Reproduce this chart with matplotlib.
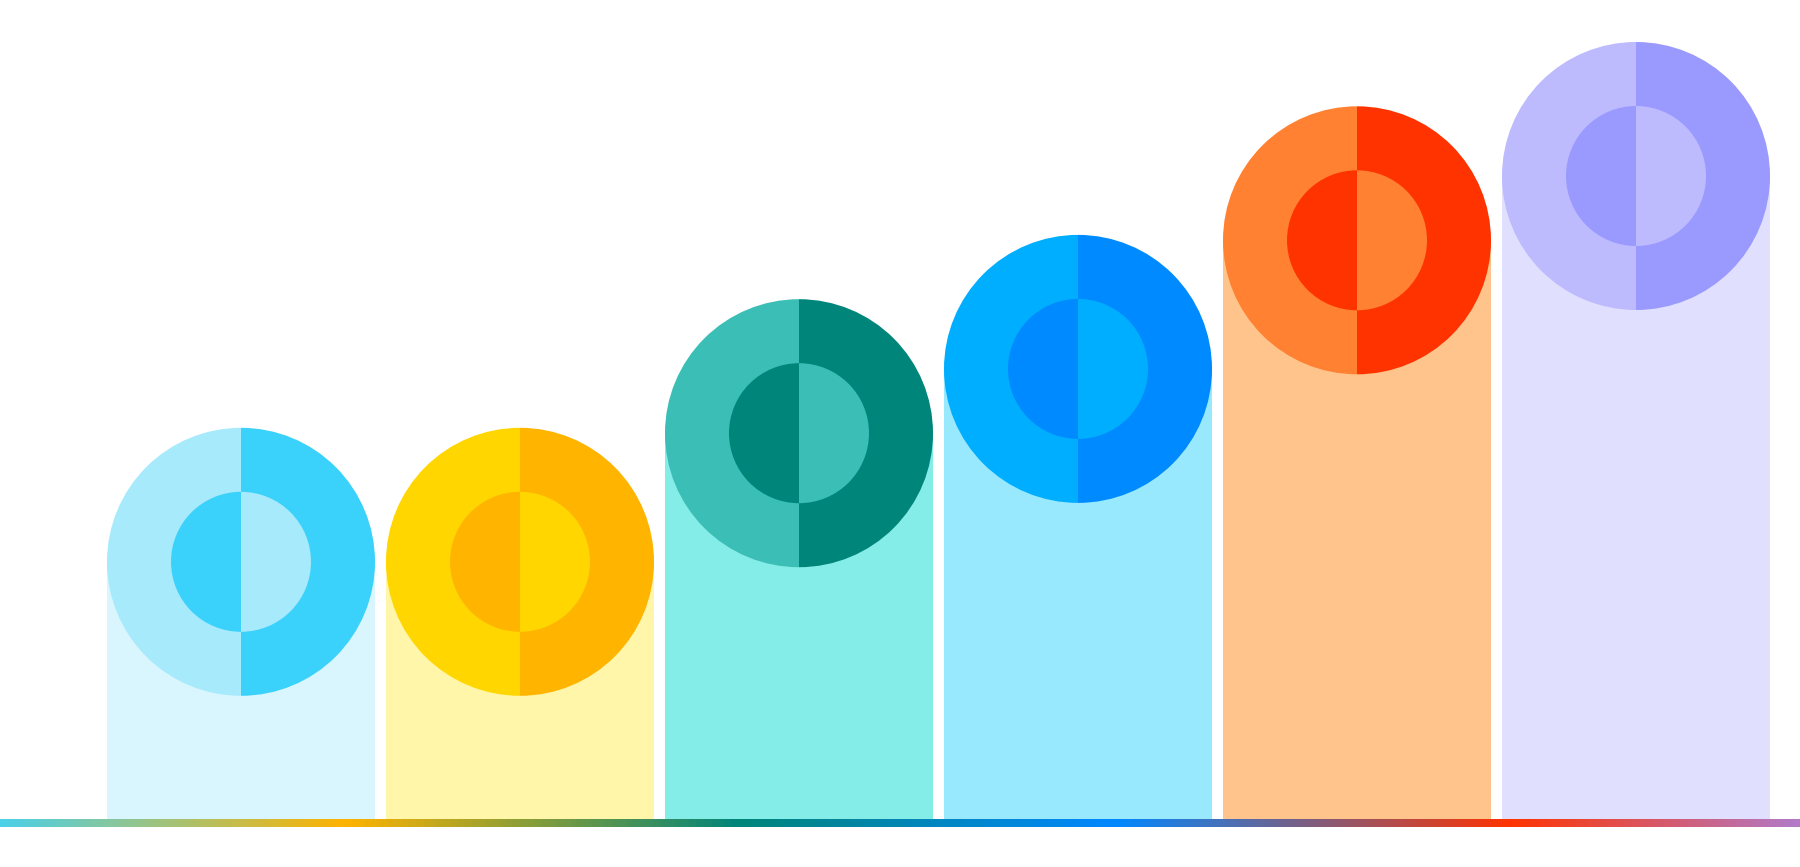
import numpy as np
import matplotlib
matplotlib.use("Agg")
import matplotlib.pyplot as plt
from matplotlib.patches import Wedge, Rectangle
from matplotlib.transforms import Affine2D
from matplotlib.colors import LinearSegmentedColormap

# Data
categories = ["A", "B", "C", "D", "E", "F"]
values = [40, 40, 60, 70, 90, 100]
bar_colors = ["#d9f5fd", "#fff6a9", "#85ede7", "#99e9fe", "#fec48c", "#e0dffe"]
light_colors = ["#a7eafc", "#ffd600", "#3bbeb6", "#00aeff", "#ff8131", "#bdbbfe"]
dark_colors = ["#3ad1fb", "#ffb400", "#00857b", "#008aff", "#ff3300", "#9a99fe"]
grad_colors = ["#4dd0e8", "#ffb300", "#00857a", "#0088ff", "#ff3300", "#b27ac8"]
grad_stops = [0.0, 0.19, 0.41, 0.62, 0.84, 1.0]

W, H = 1800, 867
fig = plt.figure(figsize=(W / 100, H / 100), dpi=100)
ax = fig.add_axes([0, 0, 1, 1])
ax.set_axis_off()

px_x = 279.0      # pixels per category step
px_y = 6.43       # pixels per value unit
x0_px = 241.0     # first bar centre
base_px = 48.0    # baseline from bottom
ax.set_xlim(-x0_px / px_x, (W - x0_px) / px_x)
ax.set_ylim(-base_px / px_y, (H - base_px) / px_y)

bar_w = 268.0 / px_x
x = np.arange(len(categories))
ax.bar(x, values, width=bar_w, color=bar_colors, zorder=1)

rx = bar_w / 2
ry = rx * px_x / px_y
inner = 70.0 / 134.0
for i, v in enumerate(values):
    tr = Affine2D().scale(rx, ry).translate(x[i], v) + ax.transData
    ax.add_patch(Wedge((0, 0), 1, 90, 270, facecolor=light_colors[i], edgecolor="none", transform=tr, zorder=2))
    ax.add_patch(Wedge((0, 0), 1, 270, 90, facecolor=dark_colors[i], edgecolor="none", transform=tr, zorder=2))
    ax.add_patch(Wedge((0, 0), inner, 90, 270, facecolor=dark_colors[i], edgecolor="none", transform=tr, zorder=3))
    ax.add_patch(Wedge((0, 0), inner, 270, 90, facecolor=light_colors[i], edgecolor="none", transform=tr, zorder=3))

# gradient baseline
cmap = LinearSegmentedColormap.from_list("g", list(zip(grad_stops, grad_colors)))
grad = np.linspace(0, 1, 1000).reshape(1, -1)
xl = ax.get_xlim()
y_top = 0.0
y_bot = -8.0 / px_y
ax.imshow(grad, cmap=cmap, aspect="auto", extent=[xl[0], xl[1], y_bot, y_top],
          zorder=4, interpolation="bilinear")
ax.set_xlim(xl)
ax.set_ylim(-base_px / px_y, (H - base_px) / px_y)

fig.savefig("out.png", dpi=100, facecolor="white")
